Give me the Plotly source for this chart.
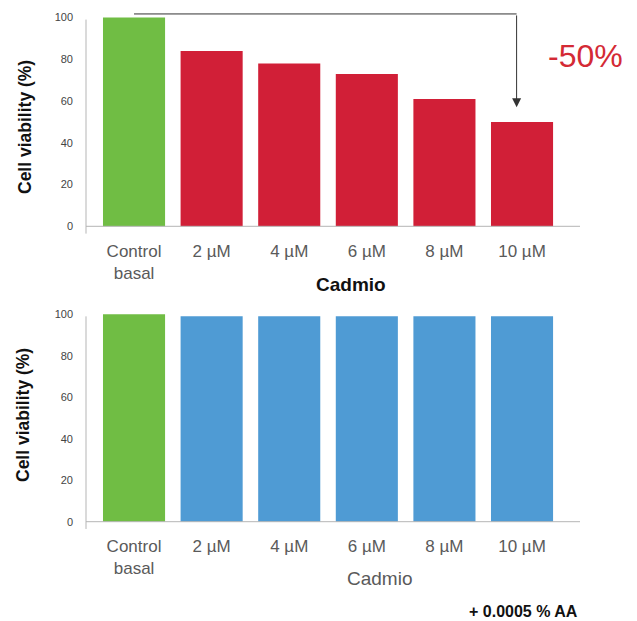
import plotly.graph_objects as go

# Cell viability after cadmium exposure, without and with 0.0005 % AA
categories = ["Control<br>basal", "2 µM", "4 µM", "6 µM", "8 µM", "10 µM"]
viability_cadmio = [100, 84, 78, 73, 61, 50]
viability_cadmio_aa = [100, 99, 99, 99, 99, 99]
y_ticks = [0, 20, 40, 60, 80, 100]

GREEN = "#70bd44"
RED = "#d11f37"
BLUE = "#4f9bd4"
AXIS_GREY = "#b5b5b5"
FONT = "Liberation Sans, Arial, sans-serif"

W, H = 637, 621
x_pos = list(range(len(categories)))


def px_x(p):
    return p / W


def px_y(p):
    return 1 - p / H


fig = go.Figure()

fig.add_trace(go.Bar(
    x=x_pos, y=viability_cadmio,
    marker=dict(color=[GREEN] + [RED] * (len(categories) - 1), line=dict(width=0)),
    width=0.8, xaxis="x", yaxis="y", showlegend=False,
))
fig.add_trace(go.Bar(
    x=x_pos, y=viability_cadmio_aa,
    marker=dict(color=[GREEN] + [BLUE] * (len(categories) - 1), line=dict(width=0)),
    width=0.8, xaxis="x2", yaxis="y2", showlegend=False,
))

x_range = [-0.619, 5.747]
y_range = [-4, 104]
x_domain = [px_x(86), px_x(580)]

xaxis_common = dict(
    range=x_range, domain=x_domain, tickvals=x_pos, ticktext=categories,
    showgrid=False, zeroline=False, showline=False, ticks="",
    tickfont=dict(family=FONT, size=17, color="#5a5a5a"),
    ticklabelstandoff=4, fixedrange=True,
)
yaxis_common = dict(
    range=y_range, tickvals=y_ticks, showgrid=False, zeroline=False,
    showline=False, ticks="", ticklabelstandoff=12,
    tickfont=dict(family=FONT, size=11, color="#444444"), fixedrange=True,
)

fig.update_layout(
    width=W, height=H,
    margin=dict(l=0, r=0, t=0, b=0),
    paper_bgcolor="white", plot_bgcolor="white",
    xaxis=dict(anchor="y", **xaxis_common),
    yaxis=dict(anchor="x", domain=[px_y(234.65), px_y(9.15)], **yaxis_common),
    xaxis2=dict(anchor="y2", **xaxis_common),
    yaxis2=dict(anchor="x2", domain=[px_y(530.0), px_y(306.0)], **yaxis_common),
    bargap=0.2,
)

# Axis lines: vertical slightly overshooting zero, baseline across the plot
for xr, yr in (("x", "y"), ("x2", "y2")):
    fig.add_shape(type="line", xref=f"{xr} domain", yref=yr,
                  x0=0, x1=0, y0=-3.5, y1=99,
                  line=dict(color=AXIS_GREY, width=1))
    fig.add_shape(type="line", xref=f"{xr} domain", yref=yr,
                  x0=0, x1=1, y0=0, y1=0,
                  line=dict(color=AXIS_GREY, width=1))

# Bracket arrow from control level down to the 10 µM bar
fig.add_shape(type="line", xref="x", yref="y",
              x0=0, x1=4.93, y0=101.7, y1=101.7,
              line=dict(color="#333333", width=1))
fig.add_annotation(xref="x", yref="y", axref="x", ayref="y",
                   x=4.93, y=57, ax=4.93, ay=101.7, text="",
                   showarrow=True, arrowhead=2, arrowsize=1.8,
                   arrowwidth=1, arrowcolor="#333333")

annotations = [
    dict(text="<b>Cadmio</b>", x=px_x(351), y=px_y(284),
         font=dict(family=FONT, size=19, color="#111111")),
    dict(text="Cadmio", x=px_x(379), y=px_y(578),
         font=dict(family=FONT, size=19, color="#5a5a5a")),
    dict(text="<b>Cell viability (%)</b>", x=px_x(25), y=px_y(127),
         textangle=-90, font=dict(family=FONT, size=17.5, color="#111111")),
    dict(text="<b>Cell viability (%)</b>", x=px_x(23), y=px_y(415),
         textangle=-90, font=dict(family=FONT, size=17.5, color="#111111")),
    dict(text="<b>+ 0.0005 % AA</b>", x=px_x(523), y=px_y(611),
         font=dict(family=FONT, size=16, color="#111111")),
    dict(text="-50%", x=px_x(585), y=px_y(56),
         font=dict(family=FONT, size=32, color="#d42a35")),
]
for a in annotations:
    fig.add_annotation(xref="paper", yref="paper", showarrow=False,
                       xanchor="center", yanchor="middle", **a)

fig.write_html("out.html")
